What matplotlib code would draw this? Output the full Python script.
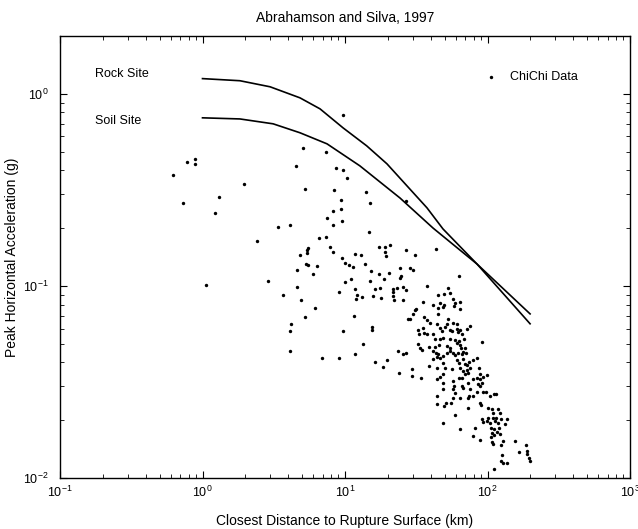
import matplotlib
matplotlib.use("Agg")
import matplotlib.pyplot as plt

plt.rcParams['font.family'] = ['Liberation Sans', 'DejaVu Sans']

# Model curves (Abrahamson & Silva 1997)
rock_dist = [1.0, 1.83, 2.98, 4.83, 6.68, 9.69, 14.2, 19.7, 27.2, 37.6, 48.7, 84.4, 199]
rock_pga = [1.2, 1.17, 1.088, 0.953, 0.835, 0.665, 0.536, 0.432, 0.332, 0.255, 0.198, 0.130, 0.0635]
soil_dist = [1.0, 1.83, 3.13, 4.83, 7.48, 12.7, 24.3, 41.5, 84.4, 199]
soil_pga = [0.75, 0.74, 0.698, 0.627, 0.549, 0.422, 0.287, 0.200, 0.130, 0.0715]

# ChiChi data: closest distance (km)
chichi_dist = [
    9.7, 5.1, 7.4, 0.89, 0.78, 0.89, 0.62, 4.5, 8.7, 9.7, 10.3, 1.95, 5.2, 8.4, 0.73, 1.31, 1.22,
    9.4, 8.2, 9.4, 7.5, 8.2, 9.5, 3.4, 4.1, 14.0, 15.0, 27, 2.4, 6.6, 7.4, 7.85, 8.2, 5.5, 5.4,
    5.4, 4.8, 11.7, 9.5, 10.0, 10.7, 11.3, 5.3, 5.5, 6.4, 4.6, 6.0, 2.9, 1.06, 4.6, 10.0, 11.0,
    9.1, 11.7, 12.1, 11.9, 3.7, 4.9, 6.2, 5.2, 11.5, 4.2, 4.1, 9.7, 4.1, 6.9, 9.1, 11.7,
    14.7, 17.4, 19.1, 20.7, 19.1, 19.4, 26.8, 31, 43.5, 12.9, 13.8, 15.2, 17.4, 18.8, 20.4,
    24.3, 28.6, 30, 24.7, 24.3, 13.1, 15.8, 16.3, 17.6, 17.9, 21.7, 21.7, 23.2, 25.5, 26.8,
    22.1, 25.5, 37.6, 63, 15.5, 15.5, 13.3, 16.3, 18.5, 19.7, 23.6, 25.5, 26.8, 24.0, 29.5,
    29.5, 34.1, 27.7, 30, 31, 15, 21.7,
    45, 49.5, 52.8, 54.6, 57.3, 35.3, 41.5, 46.4, 45, 48.7, 49.5, 59.2, 58.3, 64, 64, 31.5,
    28.6, 35.9, 37.6, 39.5, 45, 52.8, 57.3, 61.2, 44.2, 46.4, 47.9, 50.3, 52, 54.6, 56.4, 61.2,
    62.1, 64.1, 66.2, 71.8, 75.4, 32.5, 35.3, 35.9, 37.6, 33.1, 41.5, 42.8, 46.4, 48.7, 54.6,
    59.2, 63.2, 68.4, 91.5, 32.5, 38.9, 42.8, 45.7, 52, 54.6, 61.2, 64.1, 65.1, 69.5, 33.6,
    34.7, 41.5, 43.5, 45, 44.2, 46.4, 48.7, 52, 54.6, 57.3, 59.2, 62.1, 66.2, 67.3, 70.6,
    41.5, 48.7, 61.2, 63.2, 67.3, 69.5, 71.8, 74.2, 79.2, 84.4, 38.9, 44.2, 50.3, 56.4, 64.1,
    67.3, 71.8, 75.4, 69.5, 72.9, 87.2, 88.6, 84.4, 93, 99.2, 44.2, 46.4, 63.2, 79.2,
    48.7, 48.7, 48.7, 44.2, 44.2, 51.1, 49.5, 55.5, 57.3, 58.3, 57.3, 59.2, 57.3, 66.2, 72.9,
    66.2, 67.3, 75.4, 74.2, 72.9, 79.2, 64.1, 88.6, 91.5, 85.8, 88.6, 84.4, 93, 97.6, 104,
    111, 115, 88.6, 90, 72.9, 101, 107, 118, 109, 122, 109, 115, 101, 91.5, 93, 99.2, 104,
    113, 118, 124, 137, 132, 59.2, 48.7, 81.7, 106, 111, 120, 107, 111, 116, 122, 64.1, 79.2,
    106, 107, 88.6, 128, 156, 124, 186, 189, 167, 189, 126, 196, 124, 128, 137, 199, 111, 109,
]
# ChiChi data: peak horizontal acceleration (g)
chichi_pga = [
    0.78, 0.52, 0.50, 0.46, 0.44, 0.43, 0.38, 0.42, 0.41, 0.40, 0.365, 0.34, 0.32, 0.315, 0.27,
    0.29, 0.24, 0.28, 0.246, 0.25, 0.226, 0.208, 0.218, 0.203, 0.208, 0.31, 0.27, 0.277, 0.172,
    0.178, 0.18, 0.16, 0.15, 0.158, 0.154, 0.148, 0.145, 0.147, 0.14, 0.132, 0.129, 0.126,
    0.130, 0.129, 0.127, 0.121, 0.116, 0.106, 0.101, 0.099, 0.105, 0.109, 0.093, 0.096, 0.090,
    0.085, 0.090, 0.084, 0.077, 0.069, 0.070, 0.063, 0.058, 0.058, 0.046, 0.042, 0.042, 0.044,
    0.19, 0.16, 0.16, 0.164, 0.15, 0.143, 0.154, 0.145, 0.156, 0.145, 0.130, 0.119, 0.116,
    0.109, 0.117, 0.124, 0.124, 0.121, 0.113, 0.110, 0.0875, 0.0885, 0.096, 0.0975, 0.0865,
    0.096, 0.093, 0.0975, 0.099, 0.095, 0.084, 0.084, 0.100, 0.113, 0.061, 0.059, 0.050,
    0.040, 0.038, 0.041, 0.046, 0.044, 0.045, 0.035, 0.037, 0.034, 0.033, 0.067, 0.0715,
    0.075, 0.106, 0.0885,
    0.090, 0.091, 0.0975, 0.092, 0.085, 0.082, 0.080, 0.081, 0.077, 0.078, 0.080, 0.081,
    0.079, 0.082, 0.076, 0.076, 0.067, 0.069, 0.0665, 0.064, 0.0715, 0.067, 0.064, 0.0635,
    0.063, 0.0605, 0.058, 0.061, 0.0635, 0.059, 0.058, 0.060, 0.0576, 0.059, 0.056, 0.060,
    0.062, 0.059, 0.0605, 0.057, 0.056, 0.056, 0.056, 0.053, 0.053, 0.0536, 0.053, 0.0524,
    0.0517, 0.053, 0.051, 0.050, 0.048, 0.048, 0.049, 0.0487, 0.0476, 0.0505, 0.049, 0.0476,
    0.0476, 0.0476, 0.0464, 0.046, 0.0448, 0.0443, 0.0427, 0.0422, 0.0432, 0.0448, 0.0459,
    0.0448, 0.0437, 0.0448, 0.0443, 0.0453, 0.0448, 0.0417, 0.0397, 0.0412, 0.0397, 0.0417,
    0.0393, 0.0388, 0.0402, 0.0412, 0.0422, 0.0383, 0.0374, 0.0374, 0.037, 0.0374, 0.0361,
    0.0365, 0.0374, 0.0348, 0.0352, 0.0374, 0.0348, 0.0332, 0.0336, 0.0344, 0.0328, 0.0336,
    0.0332, 0.0328,
    0.0348, 0.0312, 0.0291, 0.0268, 0.0243, 0.0246, 0.0237, 0.0246, 0.032, 0.0301, 0.0291,
    0.0277, 0.0261, 0.0332, 0.0312, 0.0301, 0.0294, 0.0291, 0.0268, 0.0261, 0.0268, 0.0261,
    0.0328, 0.0312, 0.0309, 0.0301, 0.0281, 0.0281, 0.0281, 0.0268, 0.0274, 0.0274, 0.0246,
    0.024, 0.0232, 0.0232, 0.0229, 0.0229, 0.0218, 0.0218, 0.0205, 0.0205, 0.0205, 0.0203,
    0.0196, 0.0198, 0.0193, 0.0198, 0.0193, 0.0203, 0.0203, 0.0191, 0.0213, 0.0193, 0.0182,
    0.0182, 0.018, 0.0182, 0.0172, 0.0168, 0.0174, 0.017, 0.018, 0.0166, 0.0164, 0.0154,
    0.0158, 0.0156, 0.0156, 0.0149, 0.0149, 0.0138, 0.0136, 0.0133, 0.0132, 0.0127, 0.0122,
    0.0119, 0.0119, 0.0122, 0.0112, 0.0151,
]

fig = plt.figure(figsize=(6.38, 5.29), dpi=100)
ax = fig.add_axes([60 / 638, 1 - 478 / 529, 570 / 638, 442 / 529])

ax.plot(rock_dist, rock_pga, color='black', lw=1.2)
ax.plot(soil_dist, soil_pga, color='black', lw=1.2)
ax.scatter(chichi_dist, chichi_pga, s=6, color='black', marker='o', linewidths=0,
           label='ChiChi Data', zorder=3)

ax.set_xscale('log')
ax.set_yscale('log')
ax.set_xlim(0.1, 1000)
ax.set_ylim(0.01, 2.0)

ax.tick_params(which='both', direction='in', top=True, right=True, labelsize=9)
ax.tick_params(which='major', length=5)
ax.tick_params(which='minor', length=3)
ax.tick_params(axis='y', which='major', pad=8)
ax.tick_params(axis='x', which='major', pad=5)
for s in ax.spines.values():
    s.set_linewidth(1.0)

ax.text(0.176, 1.27, 'Rock Site', fontsize=9, ha='left', va='center')
ax.text(0.176, 0.72, 'Soil Site', fontsize=9, ha='left', va='center')

ax.legend(loc='center left', bbox_to_anchor=(0.725, 0.907), frameon=False, fontsize=9,
          handlelength=1.0, handletextpad=1.0, markerscale=1.0)

ax.set_title('Abrahamson and Silva, 1997', fontsize=10, pad=10)
ax.set_xlabel('Closest Distance to Rupture Surface (km)', fontsize=10, labelpad=10)
ax.set_ylabel('Peak Horizontal Acceleration (g)', fontsize=10)
ax.yaxis.set_label_coords(-0.072, 0.5)

fig.savefig('out.png', dpi=100)
